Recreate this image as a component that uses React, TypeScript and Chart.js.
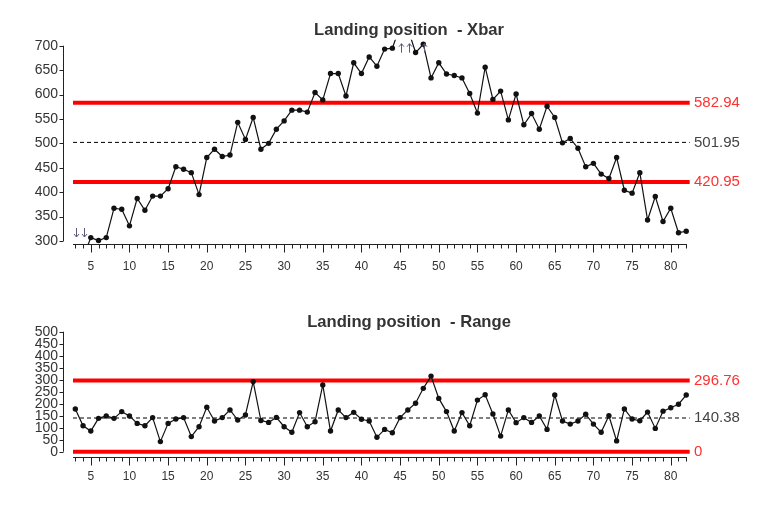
// App.tsx - Xbar / Range control chart for "Landing position"
import React, { useEffect, useRef } from 'react';
import { Chart, registerables } from 'chart.js';

Chart.register(...registerables);

// subgroup numbers shown on the x axis
const FIRST_SUBGROUP = 3;
const LAST_SUBGROUP = 82;
const subgroups = Array.from({ length: LAST_SUBGROUP - FIRST_SUBGROUP + 1 }, (_, i) => FIRST_SUBGROUP + i);

// subgroup means (3..82), values beyond the axis are drawn as arrows
const xbarValues = [
    270, 265, 307, 301, 307, 367, 365, 331, 387, 363,
    392, 392, 407, 452, 447, 440, 395, 471, 488, 473,
    476, 543, 508, 553, 488, 500, 529, 546, 568, 568,
    564, 604, 589, 643, 643, 597, 665, 643, 677, 658,
    693, 695, 740, 735, 686, 703, 634, 665, 642, 639,
    634, 602, 562, 656, 590, 607, 548, 601, 538, 561,
    529, 576, 553, 501, 510, 490, 452, 459, 437, 428,
    471, 404, 398, 440, 343, 391, 340, 367, 317, 320,
];

// subgroup ranges (3..82)
const rangeValues = [
    178, 108, 86, 139, 149, 139, 167, 149, 118, 108,
    142, 42, 118, 136, 142, 63, 104, 185, 128, 142,
    174, 132, 153, 292, 130, 122, 143, 104, 81, 163,
    104, 125, 278, 86, 174, 142, 164, 135, 128, 60,
    93, 79, 142, 174, 202, 264, 315, 222, 167, 86,
    163, 108, 215, 237, 157, 65, 174, 121, 142, 122,
    149, 93, 236, 128, 115, 128, 156, 115, 81, 150,
    45, 178, 136, 129, 165, 97, 169, 183, 198, 236,
];

// control limits [LCL, CL, UCL]
const xbarLimits = [420.95, 501.95, 582.94];
const rangeLimits = [0, 140.38, 296.76];

// y axis ranges
const xbarAxis = [300, 700];
const rangeAxis = [0, 500];

const FONT = '"Liberation Sans", Arial, Helvetica, sans-serif';
const TEXT = '#333333';
const RED = '#ff0000';

interface SpcChartProps {
    title: string;
    values: number[];
    limits: number[];
    axis: number[];
    top: number;
    height: number;
    plotTop: number;
    plotBottom: number;
    axisGap: number;
    titleY: number;
    clipData: any;
}

const SpcChart: React.FC<SpcChartProps> = ({ title, values, limits, axis, top, height, plotTop, plotBottom, axisGap, titleY, clipData }) => {
    const chartRef = useRef<HTMLCanvasElement | null>(null);

    useEffect(() => {
        if (!chartRef.current) return;
        const ctx = chartRef.current.getContext('2d');
        if (!ctx) return;

        const points = values.map((v, i) => ({ x: subgroups[i], y: v }));
        const xStart = 2.7;
        const xEnd = 82.45;
        const limitLine = (v: number, dashed: boolean) => ({
            data: [{ x: xStart, y: v }, { x: xEnd, y: v }],
            borderColor: dashed ? '#000' : RED,
            borderWidth: dashed ? 1 : 4,
            borderDash: dashed ? [4, 3] : [],
            pointRadius: 0,
            clip: false as const,
        });

        const decor = {
            id: 'spcDecor',
            afterDraw(c: any) {
                const { chartArea, scales } = c;
                const xs = scales.x;
                const ys = scales.y;
                const g = c.ctx;
                g.save();

                // title
                g.font = `bold 16.6px ${FONT}`;
                g.fillStyle = TEXT;
                g.textAlign = 'center';
                g.textBaseline = 'middle';
                g.fillText(title, 409, titleY);

                // detached axes with tick marks
                g.strokeStyle = '#222';
                g.lineWidth = 1;
                g.beginPath();
                const ax = chartArea.left - 9.5;
                g.moveTo(ax, ys.getPixelForValue(ys.max));
                g.lineTo(ax, ys.getPixelForValue(ys.min));
                ys.ticks.forEach((t: any) => {
                    const y = Math.round(ys.getPixelForValue(t.value)) + 0.5;
                    g.moveTo(ax - 4, y);
                    g.lineTo(ax, y);
                });
                const ay = Math.round(chartArea.bottom + axisGap) + 0.5;
                g.moveTo(chartArea.left, ay);
                g.lineTo(chartArea.right, ay);
                xs.ticks.forEach((t: any) => {
                    const x = Math.round(xs.getPixelForValue(t.value)) + 0.5;
                    g.moveTo(x, ay);
                    g.lineTo(x, ay + (t.value % 5 === 0 ? 8 : 4));
                });
                g.stroke();

                // limit labels on the right
                g.font = `15px ${FONT}`;
                g.textAlign = 'left';
                limits.forEach((v, i) => {
                    g.fillStyle = i === 1 ? '#444' : '#ff3030';
                    g.fillText(v === 0 ? '0' : v.toFixed(2), chartArea.right + 7, ys.getPixelForValue(v));
                });

                // arrows for points outside the axis range
                g.strokeStyle = '#5a5a78';
                g.lineWidth = 1;
                values.forEach((v, i) => {
                    const x = Math.round(xs.getPixelForValue(subgroups[i])) + 1.5;
                    let y0: number, y1: number;
                    if (v < ys.min) {
                        y0 = chartArea.bottom - 13; y1 = chartArea.bottom - 4;
                    } else if (v > ys.max) {
                        y0 = chartArea.top + 7; y1 = chartArea.top - 2;
                    } else return;
                    const d = y1 > y0 ? -3 : 3;
                    g.beginPath();
                    g.moveTo(x, y0); g.lineTo(x, y1);
                    g.moveTo(x - 2.5, y1 + d); g.lineTo(x, y1); g.lineTo(x + 2.5, y1 + d);
                    g.stroke();
                });
                g.restore();
            },
        };

        const chart = new Chart(ctx, {
            type: 'line',
            data: {
                datasets: [
                    {
                        data: points,
                        borderColor: '#111',
                        borderWidth: 1.2,
                        pointRadius: 2.7,
                        pointBackgroundColor: '#111',
                        pointBorderWidth: 0,
                        tension: 0,
                        clip: clipData,
                    },
                    limitLine(limits[1], true),
                    limitLine(limits[0], false),
                    limitLine(limits[2], false),
                ],
            },
            options: {
                responsive: false,
                animation: false,
                events: [],
                layout: { padding: { top: plotTop, right: 81, left: 0, bottom: 0 } },
                plugins: { legend: { display: false }, tooltip: { enabled: false }, title: { display: false } },
                scales: {
                    x: {
                        type: 'linear',
                        min: xStart,
                        max: 82.1,
                        afterBuildTicks: (s: any) => {
                            s.ticks = subgroups.map((v) => ({ value: v }));
                        },
                        afterFit: (s: any) => {
                            s.height = height - plotBottom;
                        },
                        grid: { display: false, drawTicks: false },
                        border: { display: false },
                        ticks: {
                            autoSkip: false,
                            maxRotation: 0,
                            padding: 18,
                            color: TEXT,
                            font: { family: FONT, size: 12 },
                            callback: (v: any) => (Number(v) % 5 === 0 ? String(v) : ''),
                        },
                    },
                    y: {
                        min: axis[0],
                        max: axis[1],
                        afterFit: (s: any) => {
                            s.width = 73;
                        },
                        grid: { display: false, drawTicks: false },
                        border: { display: false },
                        ticks: {
                            stepSize: 50,
                            autoSkip: false,
                            padding: 15,
                            color: TEXT,
                            font: { family: FONT, size: 14 },
                        },
                    },
                },
            },
            plugins: [decor],
        });

        return () => {
            chart.destroy();
        };
    }, [title, values, limits, axis, height, plotTop, plotBottom, axisGap, titleY, clipData]);

    return (
        <canvas
            ref={chartRef}
            width={768}
            height={height}
            style={{ position: 'absolute', left: 0, top, width: 768, height }}
        ></canvas>
    );
};

const xbarClip = { left: 5, right: 5, top: 6, bottom: 4 };

export default function App() {
    return (
        <div style={{ position: 'absolute', left: 0, top: 0, width: 768, height: 508, background: '#fff' }}>
            <SpcChart
                title="Landing position  - Xbar"
                values={xbarValues}
                limits={xbarLimits}
                axis={xbarAxis}
                top={0}
                height={290}
                plotTop={45.7}
                plotBottom={241}
                axisGap={3}
                titleY={30}
                clipData={xbarClip}
            />
            <SpcChart
                title="Landing position  - Range"
                values={rangeValues}
                limits={rangeLimits}
                axis={rangeAxis}
                top={290}
                height={218}
                plotTop={41.7}
                plotBottom={161.7}
                axisGap={5.5}
                titleY={32}
                clipData={false}
            />
        </div>
    );
}
